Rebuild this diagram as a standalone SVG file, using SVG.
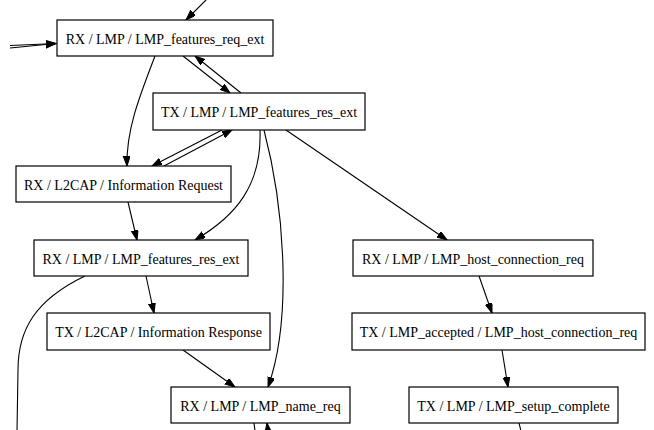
<svg xmlns="http://www.w3.org/2000/svg" width="654" height="430" viewBox="0 0 654 430">
<defs>
<style>
.n rect{fill:#fff;stroke:#000;stroke-width:1.2}
.n text{font-family:'Liberation Serif','Times New Roman',serif;font-size:14px;fill:#000;text-anchor:middle}
.e path{fill:none;stroke:#000;stroke-width:1.1}
.e path.a{marker-end:url(#ah)}
</style>
<marker id="ah" markerUnits="userSpaceOnUse" markerWidth="11" markerHeight="8" refX="10" refY="3.5" orient="auto">
<path d="M0,0 L10,3.5 L0,7 z" fill="#000" stroke="#000" stroke-width="1"/>
</marker>
</defs>
<rect width="654" height="430" fill="#fff"/>
<g id="connectors" class="e">
<path class="a" d="M207,-1 L186,20"/>
<path class="a" d="M10,45.5 L56,43.5"/>
<path class="a" d="M10,48 L56,43.5"/>
<path class="a" d="M183,56 L230,93"/>
<path class="a" d="M241,93 L195,56"/>
<path class="a" d="M155,56 C140,95 126,130 127,166"/>
<path class="a" d="M222,130 L152,166"/>
<path class="a" d="M164,166 L232,130"/>
<path class="a" d="M260,130 C262,185 236,216 195,240"/>
<path class="a" d="M264,130 C285,210 292,320 268,387"/>
<path class="a" d="M286,130 L447,240"/>
<path class="a" d="M128,202 L137,240"/>
<path class="a" d="M146,276 L154,313"/>
<path d="M85,276 C35,300 18,330 18,370 L17,431"/>
<path class="a" d="M183,350 L235,387"/>
<path d="M254,423 L255,431"/>
<path class="a" d="M268,431 L267,423"/>
<path class="a" d="M479,276 L492,313"/>
<path class="a" d="M502,350 L508,387"/>
<path d="M519,423 L521,431"/>
</g>
<g id="n1" class="n"><rect x="57" y="20" width="216" height="36"/><text x="165" y="43.5">RX / LMP / LMP_features_req_ext</text></g>
<g id="n2" class="n"><rect x="153" y="93" width="212" height="37"/><text x="259" y="117">TX / LMP / LMP_features_res_ext</text></g>
<g id="n3" class="n"><rect x="16" y="166" width="215" height="36"/><text x="123.5" y="189.5">RX / L2CAP / Information Request</text></g>
<g id="n4" class="n"><rect x="34" y="240" width="214" height="36"/><text x="141" y="263.5">RX / LMP / LMP_features_res_ext</text></g>
<g id="n5" class="n"><rect x="47" y="313" width="223" height="37"/><text x="158.5" y="337">TX / L2CAP / Information Response</text></g>
<g id="n6" class="n"><rect x="171" y="387" width="179" height="36"/><text x="260.5" y="410.5">RX / LMP / LMP_name_req</text></g>
<g id="n7" class="n"><rect x="353" y="240" width="240" height="36"/><text x="473" y="263.5">RX / LMP / LMP_host_connection_req</text></g>
<g id="n8" class="n"><rect x="352" y="313" width="293" height="37"/><text x="498.5" y="337">TX / LMP_accepted / LMP_host_connection_req</text></g>
<g id="n9" class="n"><rect x="409" y="387" width="209" height="36"/><text x="513.5" y="410.5">TX / LMP / LMP_setup_complete</text></g>
</svg>
